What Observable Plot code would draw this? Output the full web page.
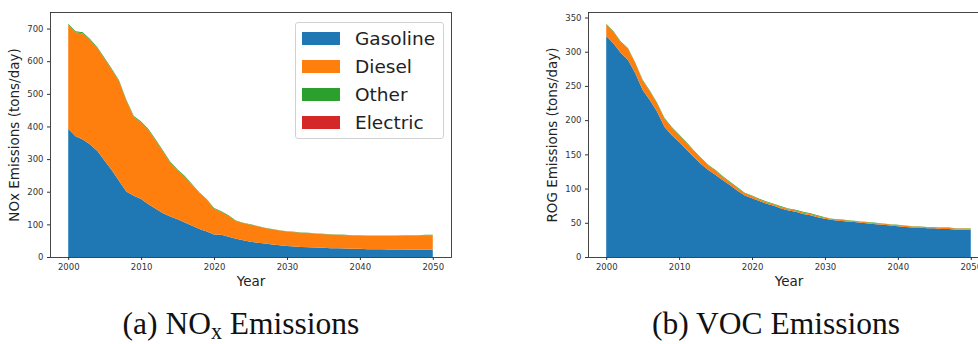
<!DOCTYPE html>
<html>
<head>
<meta charset="utf-8">
<script src="https://cdn.jsdelivr.net/npm/d3@7"></script>
<script src="https://cdn.jsdelivr.net/npm/@observablehq/plot@0.6"></script>
<style>
  html, body { margin: 0; padding: 0; background: #fff; }
  #fig { position: relative; width: 978px; height: 344px; overflow: hidden; font-family: "DejaVu Sans", sans-serif; }
  .panel { position: absolute; top: 0; }
  .legend { position: absolute; left: 295px; top: 22px; width: 149px; height: 117px; box-sizing: border-box;
            border: 1px solid #d2d2d2; border-radius: 3px; background: rgba(255,255,255,0.8); }
  .legend .row { position: absolute; left: 6px; height: 13px; display: flex; align-items: center; }
  .legend .swatch { width: 38px; height: 13px; }
  .legend .name { margin-left: 15px; font-size: 18.5px; color: #222; line-height: 13px; }
  .caption { position: absolute; top: 308px; font-family: "Liberation Serif", serif; font-size: 31.5px; line-height: 1;
             color: #111; transform: translateX(-50%); white-space: nowrap; }
  .caption .sub { font-size: 0.7em; position: relative; top: 0.22em; }
</style>
</head>
<body>
<div id="fig"></div>
<script>
// Emission inventory by fuel type, 2000-2050 (tons/day)
const years = [2000, 2001, 2002, 2003, 2004, 2005, 2006, 2007, 2008, 2009,
               2010, 2011, 2012, 2013, 2014, 2015, 2016, 2017, 2018, 2019,
               2020, 2021, 2022, 2023, 2024, 2025, 2026, 2027, 2028, 2029,
               2030, 2031, 2032, 2033, 2034, 2035, 2036, 2037, 2038, 2039,
               2040, 2041, 2042, 2043, 2044, 2045, 2046, 2047, 2048, 2049,
               2050];
const fuels = ["Gasoline", "Diesel", "Other", "Electric"];
const fuelColors = ["#1f77b4", "#ff7f0e", "#2ca02c", "#d62728"];

// NOx emissions
const noxGasoline = [393, 370, 360, 345, 325, 295, 265, 232, 200, 188,
                     178, 162, 148, 134, 124, 116, 106, 96, 86, 78,
                     69, 68, 62, 56, 51, 47, 44, 41, 38, 36,
                     34, 32, 31, 30, 29, 28, 27, 27, 26, 25,
                     25, 24, 24, 24, 23, 23, 23, 22, 22, 22,
                     22];
const noxDiesel = [319, 319, 326, 320, 315, 312, 308, 305, 277, 241,
                   234, 227, 209, 189, 165, 149, 139, 125, 110, 98,
                   79, 70, 64, 54, 53, 52, 50, 48, 47, 45,
                   44, 44, 43, 43, 42, 42, 42, 41, 41, 41,
                   41, 41, 41, 41, 42, 42, 43, 44, 44, 45,
                   45];
const noxOther = [3, 3, 3, 3, 3, 3, 3, 3, 3, 3,
                  3, 3, 3, 3, 3, 3, 3, 2, 2, 2,
                  2, 2, 2, 2, 1, 1, 1, 1, 1, 1,
                  1, 1, 1, 1, 1, 1, 1, 1, 1, 1,
                  1, 1, 1, 1, 1, 1, 1, 1, 1, 1,
                  1];
const noxElectric = [0, 0, 0, 0, 0, 0, 0, 0, 0, 0,
                     0, 0, 0, 0, 0, 0, 0, 0, 0, 0,
                     0, 0, 0, 0, 0, 0, 0, 0, 0, 0,
                     0, 0, 0, 0, 0, 0, 0, 0, 0, 0,
                     0, 0, 0, 0, 0, 0, 0, 0, 0, 0,
                     0];

// ROG (VOC) emissions
const rogGasoline = [323, 312, 298, 288, 268, 244, 229, 212, 190, 178,
                     168, 157, 146, 136, 127, 120, 112, 105, 97, 90,
                     86, 82, 78, 75, 71, 68, 66, 63, 61, 58,
                     56, 54, 53, 52, 51, 50, 49, 48, 47, 46,
                     45, 44, 43, 43, 42, 42, 41, 41, 40, 40,
                     40];
const rogDiesel = [17, 17, 16, 16, 15, 14, 13, 12, 12, 11,
                   10, 10, 9, 8, 7, 6, 5, 4, 4, 3,
                   3, 2, 2, 2, 2, 2, 2, 2, 2, 2,
                   1.5, 1.5, 1.5, 1.5, 1.5, 1.5, 1.5, 1.5, 1.5, 1.5,
                   1.5, 1.5, 1.5, 1.5, 1.5, 1.5, 1.5, 1.5, 1.5, 1.5,
                   1.5];
const rogOther = [1, 1, 1, 1, 1, 1, 1, 1, 1, 1,
                  1, 1, 1, 1, 1, 1, 1, 1, 1, 1,
                  1, 1, 1, 1, 1, 1, 1, 1, 1, 1,
                  0.5, 0.5, 0.5, 0.5, 0.5, 0.5, 0.5, 0.5, 0.5, 0.5,
                  0.5, 0.5, 0.5, 0.5, 0.5, 0.5, 0.5, 0.5, 0.5, 0.5,
                  0.5];
const rogElectric = [0, 0, 0, 0, 0, 0, 0, 0, 0, 0,
                     0, 0, 0, 0, 0, 0, 0, 0, 0, 0,
                     0, 0, 0, 0, 0, 0, 0, 0, 0, 0,
                     0, 0, 0, 0, 0, 0, 0, 0, 0, 0,
                     0, 0, 0, 0, 0, 0, 0, 0, 0, 0,
                     0];

// Axis ticks and labels
const xTicks = [2000, 2010, 2020, 2030, 2040, 2050];
const noxTicks = [0, 100, 200, 300, 400, 500, 600, 700];
const rogTicks = [0, 50, 100, 150, 200, 250, 300, 350];
const xLabel = "Year";
const noxLabel = "NOx Emissions (tons/day)";
const rogLabel = "ROG Emissions (tons/day)";

// long format: one row per (year, fuel)
function tidy(seriesByFuel) {
  return fuels.flatMap((fuel, i) =>
    years.map((year, j) => ({year, fuel, value: seriesByFuel[i][j]})));
}

function panel(data, yTicks, yLabel) {
  const totals = d3.rollup(data, v => d3.sum(v, d => d.value), d => d.year);
  const yMax = d3.max(totals.values()) * 1.05;
  return Plot.plot({
    width: 470,
    height: 300,
    marginLeft: 50,
    marginRight: 19,
    marginTop: 12,
    marginBottom: 43,
    style: {fontFamily: "DejaVu Sans", fontSize: "8.5px", color: "#333", background: "transparent", overflow: "visible"},
    x: {domain: [1997.5, 2052.5]},
    y: {domain: [0, yMax]},
    color: {domain: fuels, range: fuelColors},
    marks: [
      Plot.areaY(data, {x: "year", y: "value", fill: "fuel", order: fuels}),
      Plot.frame({stroke: "#333", strokeWidth: 0.9}),
      Plot.axisX({ticks: xTicks, tickFormat: d => String(d), tickSize: 3, tickPadding: 3, label: null}),
      Plot.axisY({ticks: yTicks, tickFormat: d => String(d), tickSize: 3, tickPadding: 4, label: null}),
      Plot.text([yLabel], {text: d => d, frameAnchor: "left", textAnchor: "middle", lineAnchor: "middle",
                           dx: -36, rotate: -90, fontSize: 13.5, fill: "#222"}),
      Plot.text([xLabel], {text: d => d, frameAnchor: "bottom", textAnchor: "middle", lineAnchor: "middle",
                           dy: 24, fontSize: 13.5, fill: "#222"})
    ]
  });
}

const fig = document.getElementById("fig");

const left = panel(tidy([noxGasoline, noxDiesel, noxOther, noxElectric]), noxTicks, noxLabel);
left.classList.add("panel");
left.style.left = "0px";
fig.appendChild(left);

const right = panel(tidy([rogGasoline, rogDiesel, rogOther, rogElectric]), rogTicks, rogLabel);
right.classList.add("panel");
right.style.left = "538px";
fig.appendChild(right);

// legend for the NOx panel
const legend = document.createElement("div");
legend.className = "legend";
fuels.forEach((fuel, i) => {
  const row = document.createElement("div");
  row.className = "row";
  row.style.top = (8.5 + i * 28.2) + "px";
  const sw = document.createElement("div");
  sw.className = "swatch";
  sw.style.background = fuelColors[i];
  const name = document.createElement("span");
  name.className = "name";
  name.textContent = fuel;
  row.appendChild(sw);
  row.appendChild(name);
  legend.appendChild(row);
});
fig.appendChild(legend);

// sub-figure captions
const captions = [
  {x: 241, html: '(a) NO<span class="sub">x</span> Emissions'},
  {x: 776, html: '(b) VOC Emissions'}
];
captions.forEach(c => {
  const el = document.createElement("div");
  el.className = "caption";
  el.style.left = c.x + "px";
  el.innerHTML = c.html;
  fig.appendChild(el);
});
</script>
</body>
</html>
